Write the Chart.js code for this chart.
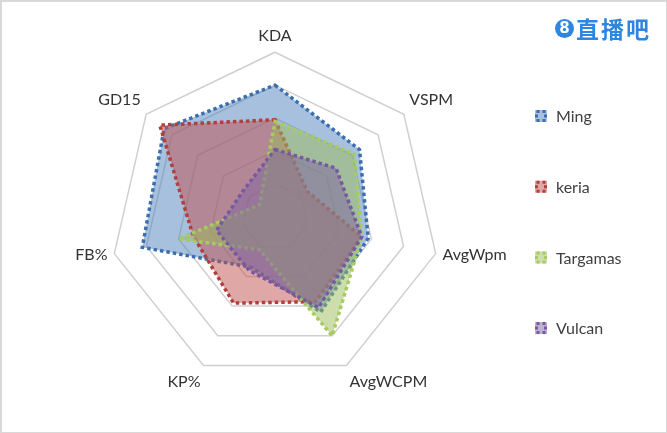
<!DOCTYPE html>
<html>
<head>
<meta charset="utf-8">
<script src="https://cdn.jsdelivr.net/npm/chart.js@4.4.1/dist/chart.umd.min.js"></script>
<style>
  html, body { margin: 0; padding: 0; background: #fff; }
  #wrap { position: relative; width: 667px; height: 433px; box-sizing: border-box; border: 2px solid #d9d9d9; border-right-width: 1px; border-bottom-width: 1px; }
  #myChart { position: absolute; left: 0; top: 0; }
  #logo { position: absolute; left: 553px; top: 14px; display: flex; align-items: center; color: #2e86de; font-family: "Noto Sans CJK SC", sans-serif; font-weight: bold; font-size: 23px; line-height: 24px; letter-spacing: 2px; }
  #logo .c { width: 19px; height: 19px; border-radius: 50%; background: #2e86de; color: #fff; font-family: "DejaVu Sans", sans-serif; font-size: 15px; line-height: 19px; text-align: center; margin-right: 2px; letter-spacing: 0; }
</style>
</head>
<body>
<div id="wrap">
  <canvas id="myChart" width="664" height="430"></canvas>
  <div id="logo"><div class="c">8</div>直播吧</div>
</div>
<script>
  const labels = ['KDA', 'VSPM', 'AvgWpm', 'AvgWCPM', 'KP%', 'FB%', 'GD15'];
  const ming = [4.0, 3.28, 2.9, 3.2, 1.69, 4.13, 4.3];
  const keria = [2.95, 1.25, 2.7, 2.85, 2.9, 2.55, 4.47];
  const targamas = [2.9, 3.07, 2.7, 4.0, 1.1, 3.0, 0.6];
  const vulcan = [2.05, 2.37, 2.7, 3.05, 1.8, 1.82, 1.25];

  // legend drawn on the right side, one row every ~71px
  const sideLegend = {
    id: 'sideLegend',
    afterDraw(chart) {
      const c = chart.ctx;
      chart.data.datasets.forEach((ds, i) => {
        const y = 114 + i * 70.7;
        const x = 533;
        c.save();
        c.fillStyle = ds.backgroundColor;
        c.fillRect(x, y - 6, 12, 12);
        c.strokeStyle = ds.borderColor;
        c.lineWidth = 3;
        c.setLineDash([3, 3]);
        c.strokeRect(x + 1.5, y - 4.5, 9, 9);
        c.setLineDash([]);
        c.fillStyle = '#404040';
        c.font = '16px Lato';
        c.textBaseline = 'middle';
        c.fillText(ds.label, x + 21, y + 1);
        c.restore();
      });
    }
  };

  const ctx = document.getElementById('myChart');

  new Chart(ctx, {
    type: 'radar',
    data: {
      labels: labels,
      datasets: [
        {
          label: 'Ming',
          data: ming,
          backgroundColor: 'rgba(79, 129, 189, 0.5)',
          borderColor: '#3d6fae',
          order: 4
        },
        {
          label: 'keria',
          data: keria,
          backgroundColor: 'rgba(192, 80, 77, 0.5)',
          borderColor: '#b0403e',
          order: 3
        },
        {
          label: 'Targamas',
          data: targamas,
          backgroundColor: 'rgba(155, 187, 89, 0.5)',
          borderColor: '#a6cb5e',
          order: 2
        },
        {
          label: 'Vulcan',
          data: vulcan,
          backgroundColor: 'rgba(128, 100, 162, 0.5)',
          borderColor: '#7659a0',
          order: 1
        }
      ]
    },
    options: {
      responsive: false,
      animation: false,
      layout: {
        padding: { left: 11, right: 129, top: 15, bottom: 33 }
      },
      elements: {
        line: { borderWidth: 3.5, borderDash: [3.5, 3], borderCapStyle: 'butt', tension: 0 },
        point: { radius: 0, hoverRadius: 0 }
      },
      plugins: {
        legend: { display: false },
        tooltip: { enabled: false }
      },
      scales: {
        r: {
          min: 0,
          max: 5,
          ticks: { stepSize: 1, display: false },
          angleLines: { display: false },
          grid: { color: '#d0d0d0', lineWidth: 1.5 },
          pointLabels: {
            padding: 7,
            color: '#333333',
            font: { family: 'Lato', size: 16 }
          },
          // side labels (AvgWpm, FB%) sit centred on their spoke
          afterFit: (scale) => {
            const items = scale._pointLabelItems || [];
            [2, 5].forEach(i => {
              if (items[i]) {
                const h = items[i].bottom - items[i].top;
                items[i].y -= h / 2;
                items[i].top -= h / 2;
                items[i].bottom -= h / 2;
              }
            });
          }
        }
      }
    },
    plugins: [sideLegend]
  });
</script>
</body>
</html>
